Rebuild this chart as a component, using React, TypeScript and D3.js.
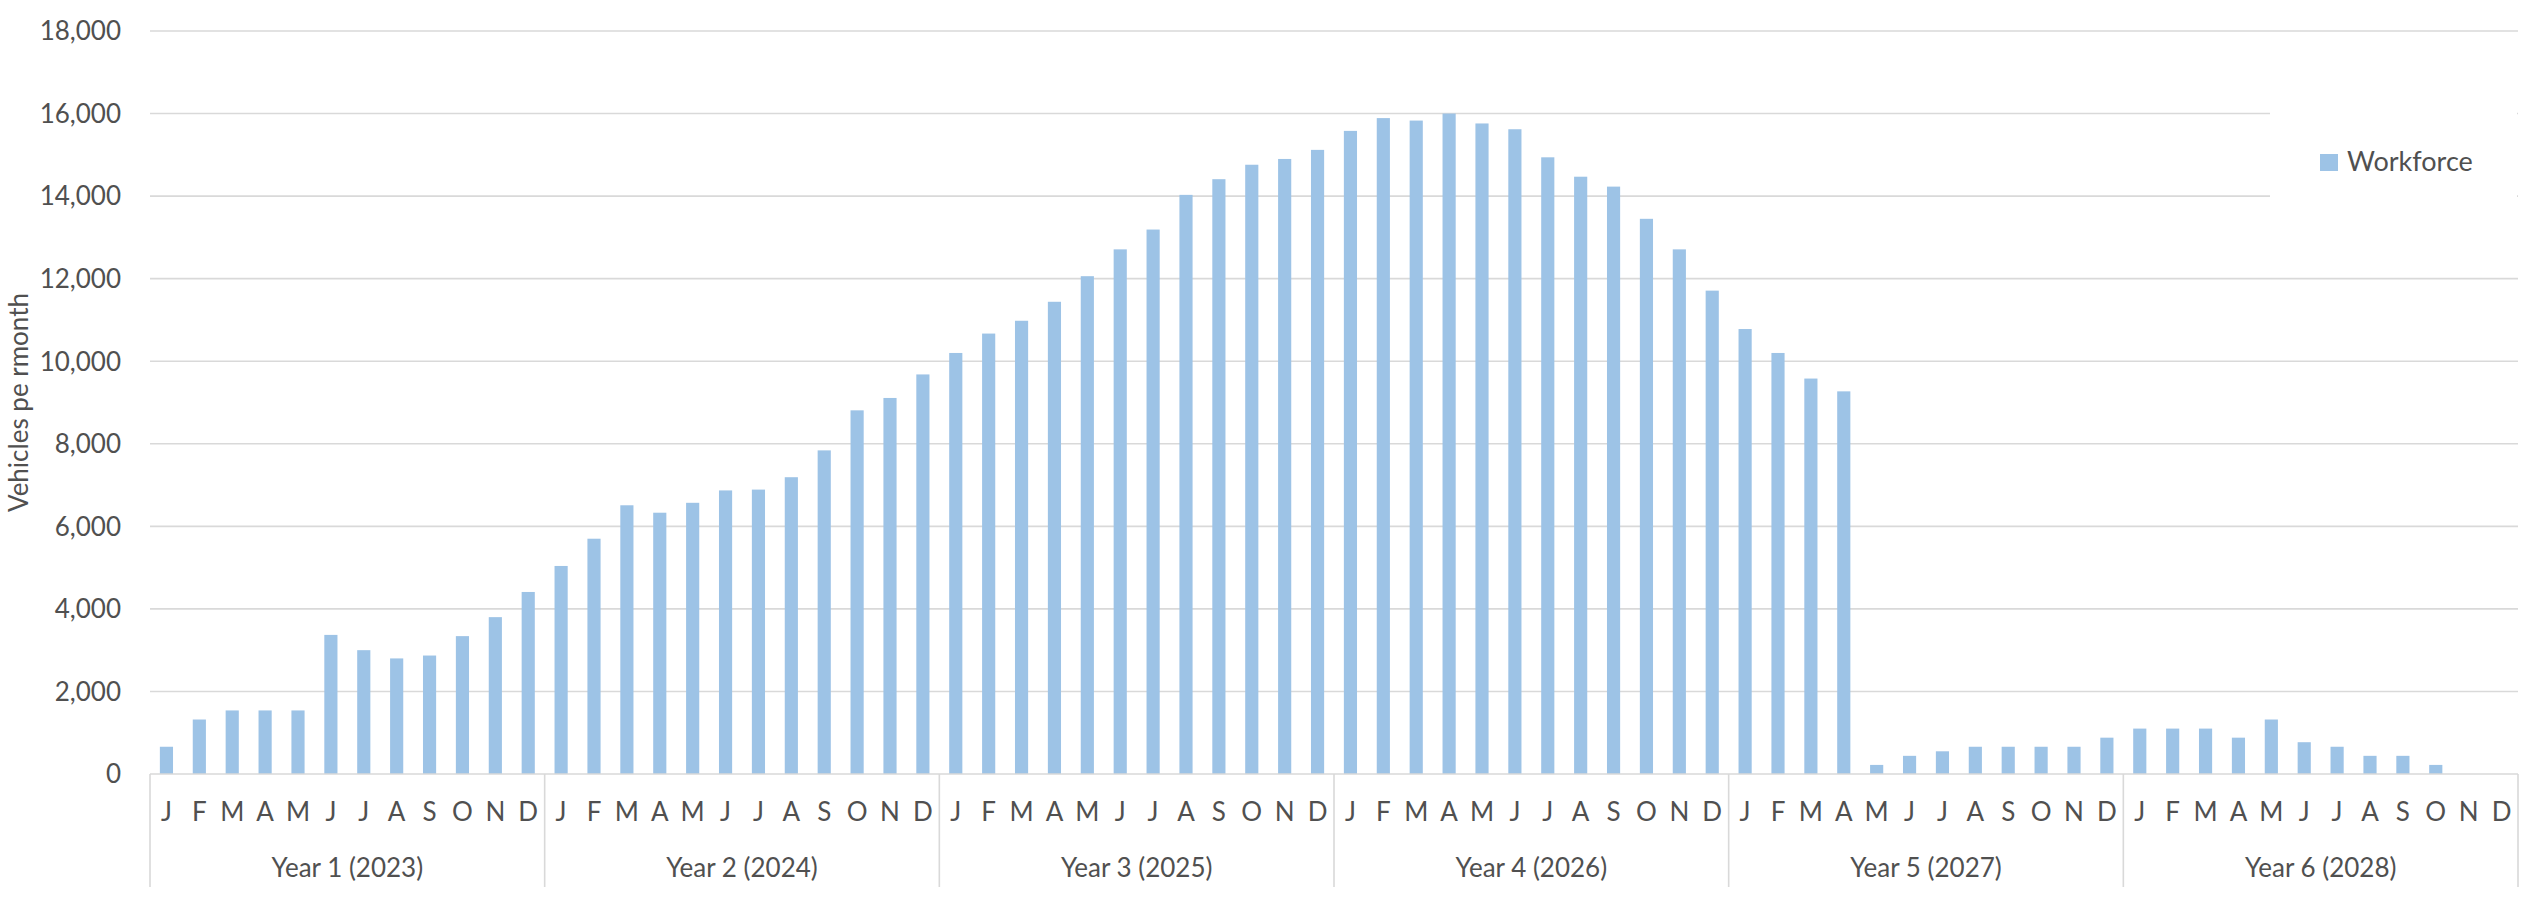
import React from "react";
import * as d3 from "d3";

// Monthly workforce vehicles, six project years
const monthLetters = ["J", "F", "M", "A", "M", "J", "J", "A", "S", "O", "N", "D"];
const yearLabels = [
  "Year 1 (2023)",
  "Year 2 (2024)",
  "Year 3 (2025)",
  "Year 4 (2026)",
  "Year 5 (2027)",
  "Year 6 (2028)",
];
const year1 = [660, 1320, 1540, 1540, 1540, 3370, 3000, 2800, 2870, 3340, 3800, 4410];
const year2 = [5040, 5700, 6510, 6330, 6570, 6870, 6890, 7190, 7840, 8810, 9110, 9680];
const year3 = [10200, 10670, 10980, 11440, 12060, 12710, 13190, 14030, 14410, 14760, 14900, 15120];
const year4 = [15580, 15890, 15830, 16000, 15760, 15620, 14940, 14470, 14230, 13450, 12710, 11710];
const year5 = [10780, 10200, 9580, 9270, 220, 440, 550, 660, 660, 660, 660, 880];
const year6 = [1100, 1100, 1100, 880, 1320, 770, 660, 440, 440, 220, 0, 0];
const yTicks = [0, 2000, 4000, 6000, 8000, 10000, 12000, 14000, 16000, 18000];
const seriesName = "Workforce";
const yTitle = "Vehicles pe rmonth";

const W = 2527;
const H = 900;
const left = 150;
const right = 2518;
const top = 31;
const bottom = 774;
const FONT = "Lato, 'Open Sans', sans-serif";
const TEXT = "#505050";
const GRID = "#d9d9d9";
const BAR = "#9DC3E6";

export default function App() {
  const values = [year1, year2, year3, year4, year5, year6].flat();
  const idx = values.map((_, i) => i);

  const x = d3
    .scaleBand<number>()
    .domain(idx)
    .range([left, right])
    .paddingInner(0.6)
    .paddingOuter(0.3);
  const y = d3.scaleLinear().domain([0, 18000]).range([bottom, top]);
  const fmt = d3.format(",");
  const step = x.step();
  const yearW = step * 12;

  return (
    <div style={{ position: "absolute", left: 0, top: 0, background: "#fff" }}>
      <svg width={W} height={H} style={{ display: "block", fontFamily: FONT }}>
        <rect x={0} y={0} width={W} height={H} fill="#fff" />

        {/* horizontal gridlines */}
        {yTicks.slice(1).map((t) => (
          <line key={t} x1={left} x2={right} y1={y(t)} y2={y(t)} stroke={GRID} strokeWidth={1.6} />
        ))}

        {/* y tick labels */}
        {yTicks.map((t) => (
          <text
            key={"l" + t}
            x={121}
            y={y(t) + 9.3}
            textAnchor="end"
            fontSize={26}
            fill={TEXT}
          >
            {fmt(t)}
          </text>
        ))}

        {/* y axis title */}
        <text
          transform={`translate(28, ${(top + bottom) / 2}) rotate(-90)`}
          textAnchor="middle"
          fontSize={26}
          fill={TEXT}
        >
          {yTitle}
        </text>

        {/* bars */}
        {values.map((v, i) => (
          <rect
            key={"b" + i}
            x={x(i)}
            y={y(v)}
            width={x.bandwidth()}
            height={bottom - y(v)}
            fill={BAR}
          />
        ))}

        {/* category axis line and year dividers */}
        <line x1={left} x2={right} y1={bottom} y2={bottom} stroke={GRID} strokeWidth={1.6} />
        {d3.range(yearLabels.length + 1).map((k) => (
          <line
            key={"d" + k}
            x1={left + k * yearW}
            x2={left + k * yearW}
            y1={bottom}
            y2={887}
            stroke={GRID}
            strokeWidth={1.6}
          />
        ))}

        {/* month letters */}
        {idx.map((i) => (
          <text
            key={"m" + i}
            x={(x(i) as number) + x.bandwidth() / 2}
            y={821}
            textAnchor="middle"
            fontSize={26}
            fill={TEXT}
          >
            {monthLetters[i % 12]}
          </text>
        ))}

        {/* year labels */}
        {yearLabels.map((lab, k) => (
          <text
            key={"y" + k}
            x={left + k * yearW + yearW / 2}
            y={877}
            textAnchor="middle"
            fontSize={26}
            fill={TEXT}
          >
            {lab}
          </text>
        ))}

        {/* legend */}
        <rect x={2270} y={98} width={247} height={132} fill="#fff" />
        <rect x={2320} y={154} width={18} height={17} fill={BAR} />
        <text x={2347} y={171} fontSize={27} fill={TEXT}>
          {seriesName}
        </text>
      </svg>
    </div>
  );
}
